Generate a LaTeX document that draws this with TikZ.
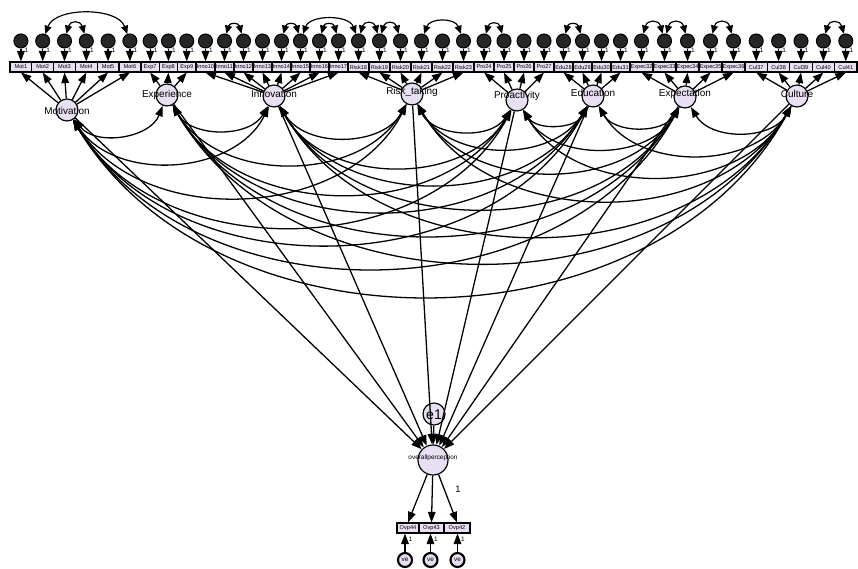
\documentclass[tikz,border=0pt]{standalone}
\usepackage{fontspec}
\setmainfont{Liberation Sans}
\usetikzlibrary{arrows.meta}
\definecolor{lav}{HTML}{E8E0F2}
\tikzset{
  lat/.style={circle,draw,line width=1pt,fill=lav,minimum size=0.66cm,inner sep=0pt},
  obs/.style={rectangle,draw,line width=0.9pt,fill=lav,minimum height=0.3cm,inner sep=0pt},
  err/.style={circle,draw,line width=0.9pt,fill=black!85,minimum size=0.42cm,inner sep=0pt},
  berr/.style={circle,draw,line width=1.8pt,fill=lav,minimum size=0.42cm,inner sep=0pt,font=\fontsize{5.5}{6}\selectfont},
  reg/.style={line width=1.1pt,-{Triangle[length=9pt,width=6.5pt]}},
  cov/.style={line width=1.1pt,{Triangle[length=9pt,width=6.5pt]}-{Triangle[length=9pt,width=6.5pt]}},
  ecov/.style={line width=1pt,{Triangle[length=7pt,width=6pt]}-{Triangle[length=7pt,width=6pt]}},
  latlbl/.style={font=\fontsize{8.5}{9}\selectfont,inner sep=0pt},
  boxlbl/.style={font=\fontsize{4.8}{5}\selectfont,inner sep=0pt},
  onelbl/.style={font=\fontsize{5.5}{5}\selectfont,inner sep=0pt}
}
\newcommand\obsgroup[6]{%
  \foreach \k in {1,...,#3}{%
    \pgfmathtruncatemacro\nn{#2+\k-1}%
    \pgfmathsetmacro\cx{#4+(\k-0.5)*#5}%
    \node[obs,minimum width=#5*0.03cm] (o\nn) at (\cx,67) {};
    \node[boxlbl] at (\cx,67) {#1\nn};
    \node[err] (e\nn) at (\cx,41) {};
    \draw[reg] (e\nn) -- (o\nn);
    \node[onelbl] at (\cx+5.5,50) {1};
    \draw[reg] (#6) -- (o\nn.south);
  }%
}
\begin{document}
\begin{tikzpicture}[x=0.03cm,y=-0.03cm]
\useasboundingbox[fill=white] (0,0) rectangle (858,569);

% latent variables
\node[lat] (L1) at (67,110) {};
\node[lat] (L2) at (167,95) {};
\node[lat] (L3) at (274,96) {};
\node[lat] (L4) at (412,94) {};
\node[lat] (L5) at (517,100) {};
\node[lat] (L6) at (593,96) {};
\node[lat] (L7) at (685,97) {};
\node[lat] (L8) at (797,96) {};

% outcome
\node[lat,minimum size=0.9cm] (ov) at (433,460) {};
\node[lat] (e1) at (434,414) {};

% covariances between latents
\foreach \i in {1,...,7}{
  \pgfmathtruncatemacro\s{\i+1}
  \foreach \j in {\s,...,8}{
    \draw[cov] (L\i) to[bend right=60] (L\j);
  }
}

% regressions to overall perception
\foreach \i in {1,...,8}{
  \draw[reg] (L\i) -- (ov);
}
\draw[reg] (e1) -- (ov);

% indicators
\obsgroup{Mot}{1}{6}{10}{21.8}{L1}
\obsgroup{Exp}{7}{3}{141}{18.3}{L2}
\obsgroup{Inno}{10}{8}{196}{19}{L3}
\obsgroup{Risk}{18}{6}{348}{21}{L4}
\obsgroup{Pro}{24}{4}{474}{20}{L5}
\obsgroup{Edu}{28}{4}{554}{19}{L6}
\obsgroup{Expec}{32}{5}{630}{23}{L7}
\obsgroup{Cul}{37}{5}{745}{22.4}{L8}

% error covariances
\draw[ecov] (e2) to[out=70,in=110,looseness=0.9] (e6);
\draw[ecov] (e3) to[out=75,in=105,looseness=2] (e4);
\draw[ecov] (e11) to[out=75,in=105,looseness=2] (e12);
\draw[ecov] (e14) to[out=75,in=105,looseness=2] (e15);
\draw[ecov] (e15) to[out=70,in=110,looseness=1] (e18);
\draw[ecov] (e16) to[out=75,in=105,looseness=2] (e17);
\draw[ecov] (e18) to[out=75,in=105,looseness=2] (e19);
\draw[ecov] (e19) to[out=75,in=105,looseness=2] (e20);
\draw[ecov] (e21) to[out=70,in=110,looseness=1.2] (e23);
\draw[ecov] (e24) to[out=75,in=105,looseness=2] (e25);
\draw[ecov] (e28) to[out=75,in=105,looseness=2] (e29);
\draw[ecov] (e32) to[out=75,in=105,looseness=2] (e33);
\draw[ecov] (e33) to[out=75,in=105,looseness=2] (e34);
\draw[ecov] (e35) to[out=75,in=105,looseness=2] (e36);
\draw[ecov] (e40) to[out=75,in=105,looseness=2] (e41);

% overall perception indicators
\node[obs,minimum width=0.66cm] (p44) at (408,528) {};
\node[boxlbl] at (408,528) {Ovp44};
\node[obs,minimum width=0.75cm] (p43) at (431.5,528) {};
\node[boxlbl] at (431.5,528) {Ovp43};
\node[obs,minimum width=0.78cm] (p42) at (457,528) {};
\node[boxlbl] at (457,528) {Ovp42};
\draw[reg] (ov) -- (p44.north);
\draw[reg] (ov) -- (p43.north);
\draw[reg] (ov) -- (p42.north);
\node[font=\fontsize{8}{8}\selectfont,inner sep=0pt] at (458,489) {1};

\node[berr] (b44) at (405,560) {ve};
\node[berr] (b43) at (430.5,560) {ve};
\node[berr] (b42) at (457.5,560) {ve};
\draw[reg] (b44) -- (b44 |- p44.south);
\draw[reg] (b43) -- (b43 |- p43.south);
\draw[reg] (b42) -- (b42 |- p42.south);
\node[onelbl] at (410.5,539) {1};
\node[onelbl] at (436,539) {1};
\node[onelbl] at (463,539) {1};

% labels
\node[latlbl] at (67,111) {Motivation};
\node[latlbl] at (167,95) {Experience};
\node[latlbl] at (274,94) {Innovation};
\node[latlbl] at (412,92) {Risk\_taking};
\node[latlbl] at (517,96) {Proactivity};
\node[latlbl] at (593,93) {Education};
\node[latlbl] at (685,94) {Expectation};
\node[latlbl] at (797,94) {Culture};
\node[font=\fontsize{5.5}{6}\selectfont,inner sep=0pt] at (433,458) {overallperception};
\node[font=\fontsize{12}{12}\selectfont,inner sep=0pt] at (434,415) {e1};
\end{tikzpicture}
\end{document}
